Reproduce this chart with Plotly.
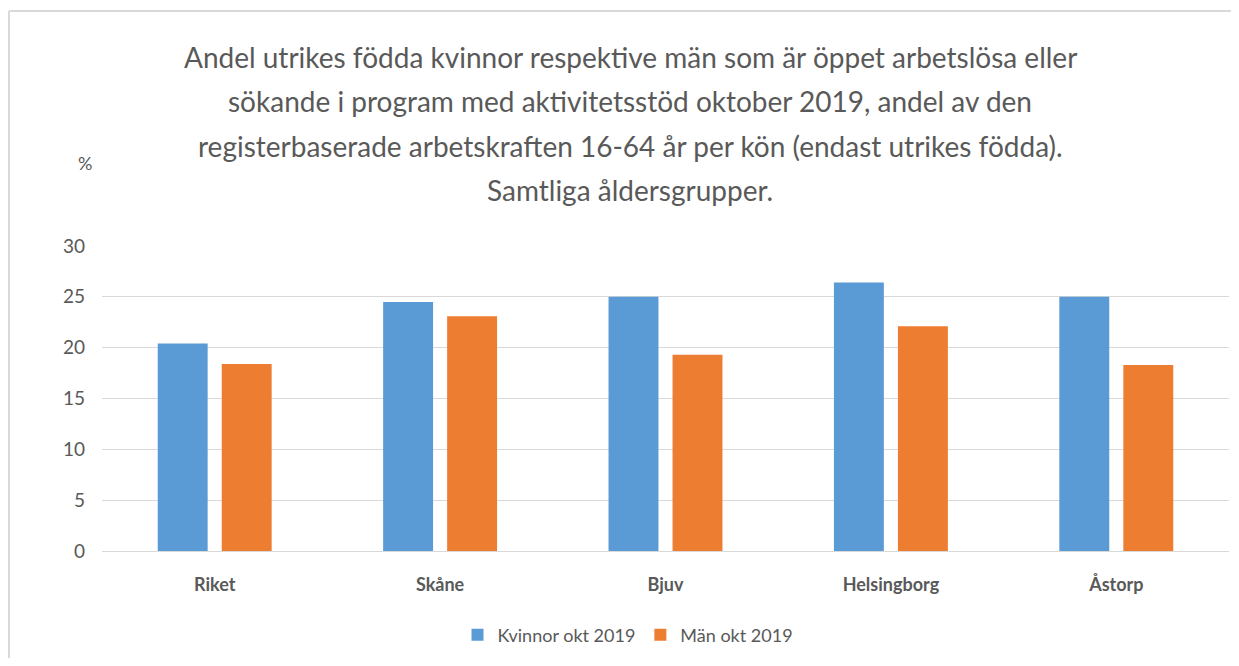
import plotly.graph_objects as go

categories = ["Riket", "Skåne", "Bjuv", "Helsingborg", "Åstorp"]
kvinnor = [20.4, 24.5, 25.0, 26.4, 25.0]
man = [18.4, 23.1, 19.3, 22.1, 18.3]
series_names = ["Kvinnor okt 2019", "Män okt 2019"]
title_lines = [
    "Andel utrikes födda kvinnor respektive män som är öppet arbetslösa eller",
    "sökande i program med aktivitetsstöd oktober 2019, andel av den",
    "registerbaserade arbetskraften 16-64 år per kön (endast utrikes födda).",
    "Samtliga åldersgrupper.",
]
y_ticks = [0, 5, 10, 15, 20, 25, 30]

FONT = "Lato, Open Sans, sans-serif"
GREY = "#595959"

OFF = 8  # default page body margin
W, H = 1239 - 2 * OFF, 666 - 2 * OFF
# plot area in page pixels: x 102..1229, y 246..551
L = 102 - OFF
R = W - (1229 - OFF)
T = 246 - OFF
B = H - (551 - OFF)
pw, ph = W - L - R, H - T - B


def px_to_paper_x(px):
    return (px - OFF - L) / pw


def py_to_paper_y(py):
    return (H - B - (py - OFF)) / ph


fig = go.Figure()
fig.add_trace(go.Bar(x=categories, y=kvinnor, name=series_names[0],
                     marker=dict(color="#5B9BD5", line=dict(width=0))))
fig.add_trace(go.Bar(x=categories, y=man, name=series_names[1],
                     marker=dict(color="#ED7D31", line=dict(width=0))))

annotations = []
line_y = [57, 101, 146, 190]
for txt, yy in zip(title_lines, line_y):
    annotations.append(dict(text=txt, xref="paper", yref="paper",
                            x=px_to_paper_x(630), y=py_to_paper_y(yy),
                            xanchor="center", yanchor="middle", showarrow=False,
                            font=dict(family=FONT, size=28, color=GREY)))
annotations.append(dict(text="%", xref="paper", yref="paper",
                        x=px_to_paper_x(85), y=py_to_paper_y(163),
                        xanchor="center", yanchor="middle", showarrow=False,
                        font=dict(family=FONT, size=18, color=GREY)))

border_x0 = px_to_paper_x(9)
border_x1 = px_to_paper_x(1231)
border_y_top = py_to_paper_y(11)
border_y_bot = py_to_paper_y(658)

fig.update_layout(
    width=W, height=H,
    margin=dict(l=L, r=R, t=T, b=B, pad=0),
    paper_bgcolor="white", plot_bgcolor="white",
    barmode="group", bargap=0.432, bargroupgap=0.22,
    showlegend=True,
    legend=dict(orientation="h", x=px_to_paper_x(628), xanchor="center",
                y=py_to_paper_y(635), yanchor="middle",
                font=dict(family=FONT, size=18, color=GREY),
                itemwidth=30, traceorder="normal"),
    annotations=annotations,
    shapes=[
        dict(type="line", xref="paper", yref="paper",
             x0=border_x0, x1=border_x1, y0=border_y_top, y1=border_y_top,
             line=dict(color="#d9d9d9", width=2), layer="below"),
        dict(type="line", xref="paper", yref="paper",
             x0=border_x0, x1=border_x0, y0=border_y_top, y1=border_y_bot,
             line=dict(color="#d9d9d9", width=2), layer="below"),
    ],
    font=dict(family=FONT, color=GREY),
)
fig.update_yaxes(range=[0, 30], tickvals=y_ticks, showgrid=True,
                 gridcolor="#d9d9d9", gridwidth=1, zeroline=False,
                 showline=False, ticklabelstandoff=16,
                 tickfont=dict(family=FONT, size=19, color=GREY))
fig.update_xaxes(showline=True, linecolor="#d9d9d9", linewidth=1,
                 ticks="", ticklabelstandoff=17,
                 tickfont=dict(family=FONT, size=18, color=GREY, weight="bold"))

fig.write_html("out.html")
